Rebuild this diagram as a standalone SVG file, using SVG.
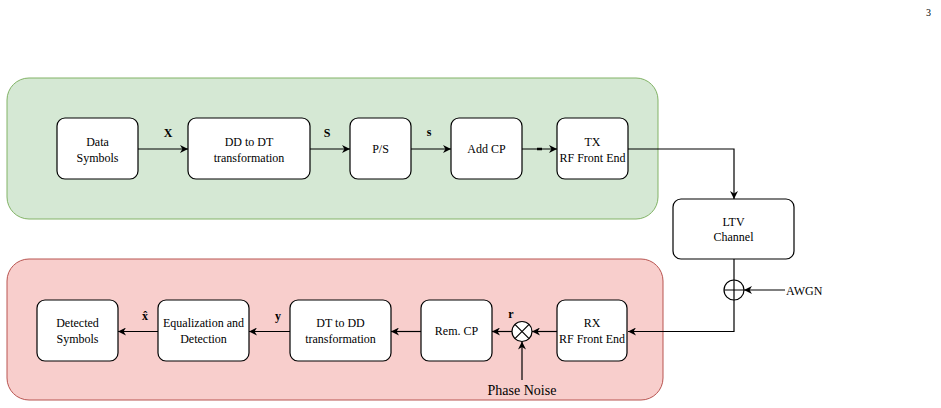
<svg xmlns="http://www.w3.org/2000/svg" width="941" height="408" viewBox="0 0 941 408">
<defs>
<style>
.box{fill:#fff;stroke:#000;stroke-width:1.2}
.t{font-family:"Liberation Serif","Times New Roman",serif;font-size:12px;text-anchor:middle;fill:#000}
.lb{font-family:"Liberation Serif","Times New Roman",serif;font-size:12px;font-weight:bold;text-anchor:middle;fill:#000}
.c{fill:none;stroke:#000;stroke-width:1.2}
</style>
<marker id="ah" viewBox="0 0 10 10" refX="10" refY="5" markerWidth="8" markerHeight="8" markerUnits="userSpaceOnUse" orient="auto">
<path d="M0,0 L10,5 L0,10 L3,5 z" fill="#000"/>
</marker>
</defs>
<rect width="941" height="408" fill="#fff"/>
<text x="926" y="16" style="font-family:'Liberation Serif',serif;font-size:10px;fill:#000">3</text>
<rect id="tx-region" x="7" y="78" width="651" height="141" rx="22" fill="#d5e8d4" stroke="#82b366" stroke-width="1"/>
<rect id="rx-region" x="7" y="259" width="656" height="141" rx="22" fill="#f8cecc" stroke="#b85450" stroke-width="1"/>
<g id="connectors">
<line class="c" x1="138" y1="149" x2="188" y2="149" marker-end="url(#ah)"/>
<line class="c" x1="310" y1="149" x2="350" y2="149" marker-end="url(#ah)"/>
<line class="c" x1="411" y1="149" x2="451" y2="149" marker-end="url(#ah)"/>
<line class="c" x1="522" y1="149" x2="557" y2="149" marker-end="url(#ah)"/>
<line x1="537" y1="149" x2="542" y2="149" stroke="#000" stroke-width="2.5"/>
<polyline class="c" points="628,149 734,149 734,199" marker-end="url(#ah)"/>
<line class="c" x1="734" y1="259" x2="734" y2="280"/>
<polyline class="c" points="734,300 734,331.5 628,331.5" marker-end="url(#ah)"/>
<line class="c" x1="785" y1="290" x2="744" y2="290" marker-end="url(#ah)"/>
<line class="c" x1="557" y1="331.5" x2="532" y2="331.5" marker-end="url(#ah)"/>
<line class="c" x1="512" y1="331.5" x2="492" y2="331.5" marker-end="url(#ah)"/>
<line class="c" x1="421" y1="331.5" x2="391" y2="331.5" marker-end="url(#ah)"/>
<line class="c" x1="290" y1="331.5" x2="249" y2="331.5" marker-end="url(#ah)"/>
<line class="c" x1="158" y1="331.5" x2="118" y2="331.5" marker-end="url(#ah)"/>
<line class="c" x1="522" y1="380" x2="522" y2="341.5" marker-end="url(#ah)"/>
<text class="lb" x="168" y="137">X</text>
<text class="lb" x="327" y="137">S</text>
<text class="lb" x="429" y="136">s</text>
<text class="lb" x="511" y="318">r</text>
<text class="lb" x="145" y="320">x̂</text>
<text class="lb" x="278" y="320">y</text>
</g>
<g id="data-symbols"><rect class="box" x="57" y="118" width="81" height="61" rx="8"/><text class="t" x="97.5" y="146">Data</text><text class="t" x="97.5" y="162">Symbols</text></g>
<g id="dd-to-dt"><rect class="box" x="188" y="118" width="122" height="61" rx="8"/><text class="t" x="249" y="146">DD to DT</text><text class="t" x="249" y="162">transformation</text></g>
<g id="ps"><rect class="box" x="350" y="118" width="61" height="61" rx="8"/><text class="t" x="380.5" y="153">P/S</text></g>
<g id="add-cp"><rect class="box" x="451" y="118" width="71" height="61" rx="8"/><text class="t" x="486.5" y="153">Add CP</text></g>
<g id="tx-rf"><rect class="box" x="557" y="118" width="71" height="61" rx="8"/><text class="t" x="592.5" y="146">TX</text><text class="t" x="592.5" y="162">RF Front End</text></g>
<g id="ltv"><rect class="box" x="673" y="199" width="121" height="60" rx="8"/><text class="t" x="733.5" y="226">LTV</text><text class="t" x="733.5" y="241">Channel</text></g>
<g id="adder"><circle cx="734" cy="290" r="10" fill="none" stroke="#000" stroke-width="1.2"/><path d="M724,290 H744 M734,280 V300" stroke="#000" stroke-width="1.2"/></g>
<g id="awgn"><text x="786" y="294.5" style="font-family:'Liberation Serif',serif;font-size:12px;fill:#000">AWGN</text></g>
<g id="rx-rf"><rect class="box" x="557" y="300" width="70" height="61" rx="8"/><text class="t" x="592" y="327">RX</text><text class="t" x="592" y="343">RF Front End</text></g>
<g id="mixer"><circle cx="522" cy="331.5" r="10" fill="#fff" stroke="#000" stroke-width="1.2"/><path d="M514.9,324.4 L529.1,338.6 M529.1,324.4 L514.9,338.6" stroke="#000" stroke-width="1.2"/></g>
<g id="phase-noise"><text x="522" y="395" style="font-family:'Liberation Serif',serif;font-size:14px;text-anchor:middle;fill:#000">Phase Noise</text></g>
<g id="rem-cp"><rect class="box" x="421" y="300" width="71" height="61" rx="8"/><text class="t" x="456.5" y="335">Rem. CP</text></g>
<g id="dt-to-dd"><rect class="box" x="290" y="300" width="101" height="61" rx="8"/><text class="t" x="340.5" y="327">DT to DD</text><text class="t" x="340.5" y="343">transformation</text></g>
<g id="equalization"><rect class="box" x="158" y="300" width="91" height="61" rx="8"/><text class="t" x="203.5" y="327">Equalization and</text><text class="t" x="203.5" y="343">Detection</text></g>
<g id="detected"><rect class="box" x="37" y="300" width="81" height="61" rx="8"/><text class="t" x="77.5" y="327">Detected</text><text class="t" x="77.5" y="343">Symbols</text></g>
</svg>
